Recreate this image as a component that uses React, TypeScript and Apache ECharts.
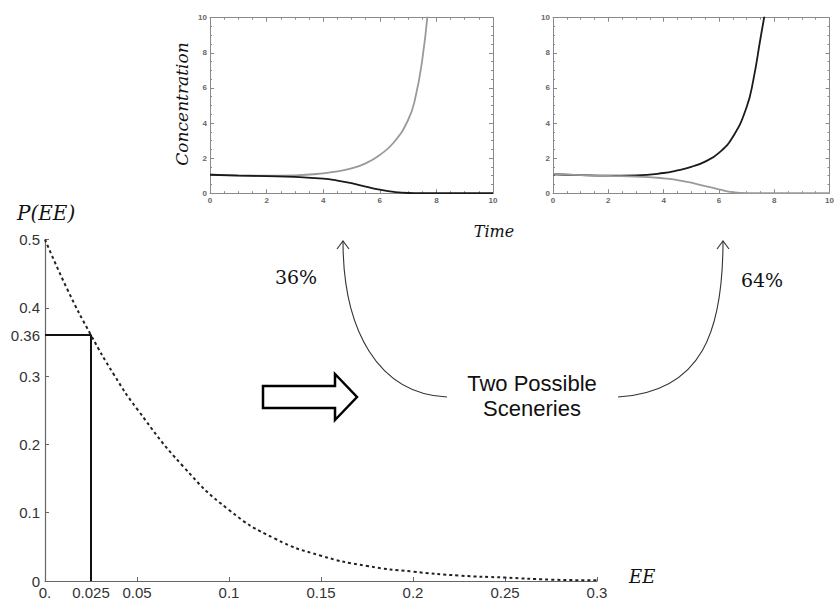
import React, { useEffect, useRef } from "react";
import * as echarts from "echarts";

// Main chart: P(EE) vs EE
const eeValues = [0, 0.0125, 0.025, 0.0375, 0.05, 0.075, 0.1, 0.125, 0.15, 0.175, 0.2, 0.225, 0.25, 0.275, 0.3];
const pValues = [0.5, 0.425, 0.36, 0.302, 0.252, 0.168, 0.104, 0.062, 0.037, 0.022, 0.0137, 0.008, 0.005, 0.002, 0.001];
const markerEE = [0, 0.025, 0.025];
const markerP = [0.36, 0.36, 0];
const xTickValues = [0, 0.025, 0.05, 0.1, 0.15, 0.2, 0.25, 0.3];
const yTickValues = [0, 0.1, 0.2, 0.3, 0.36, 0.4, 0.5];

// Top-left panel (scenario 36%)
const timeRise = [0, 1, 2, 3, 4, 4.5, 5, 5.5, 6, 6.5, 7, 7.25, 7.5, 7.7];
const leftRise = [1.05, 1.02, 1.0, 1.02, 1.13, 1.25, 1.42, 1.7, 2.18, 2.9, 4.17, 5.4, 7.6, 10.4];
const timeFall = [0, 1, 2, 3, 4, 4.5, 5, 5.5, 6, 6.5, 7, 7.5, 8, 9, 10];
const leftFall = [1.05, 1.0, 0.97, 0.93, 0.83, 0.72, 0.57, 0.38, 0.2, 0.07, 0.01, 0, 0, 0, 0];
// Top-right panel (scenario 64%)
const rightRise = [1.08, 1.03, 1.0, 1.02, 1.15, 1.3, 1.5, 1.8, 2.3, 3.2, 4.9, 6.5, 8.8, 10.6];
const rightFall = [1.1, 1.03, 0.98, 0.95, 0.85, 0.75, 0.6, 0.4, 0.22, 0.06, 0.0, 0, 0, 0, 0];

const zip = (xs: number[], ys: number[]) => xs.map((x, i) => [x, ys[i]]);

export default function App() {
  const ref = useRef<HTMLDivElement>(null);
  useEffect(() => {
    if (!ref.current) return;
    const chart = echarts.init(ref.current, null, { renderer: "svg" });
    const frameColor = "#8a8a8a";
    const smallLabel = { fontSize: 8, fontWeight: "bold" as const, color: "#666", fontFamily: "Liberation Sans" };
    const smallX = (gridIndex: number, position: string, labels: boolean) => ({
      type: "value",
      gridIndex,
      position,
      min: 0,
      max: 10,
      interval: 2,
      axisLine: { show: true, onZero: false, lineStyle: { color: frameColor, width: 1 } },
      axisTick: { show: true, inside: true, length: 4, lineStyle: { color: frameColor } },
      minorTick: { show: true, splitNumber: 4, length: 2, lineStyle: { color: frameColor } },
      axisLabel: { show: labels, margin: 3, ...smallLabel },
      splitLine: { show: false },
    });
    const mainLabel = { fontSize: 15, color: "#333", fontFamily: "Liberation Sans" };
    chart.setOption({
      animation: false,
      backgroundColor: "#fff",
      grid: [
        { left: 45, top: 239.5, width: 552, height: 341.5 },
        { left: 210, top: 17.7, width: 283, height: 175.5 },
        { left: 553, top: 17.7, width: 283, height: 175.5 },
      ],
      xAxis: [
        {
          type: "value",
          gridIndex: 0,
          min: 0,
          max: 0.3,
          axisLine: { show: true, onZero: false, lineStyle: { color: "#666", width: 1.2 } },
          axisTick: { show: true, inside: true, length: 4, customValues: xTickValues, lineStyle: { color: "#666" } },
          axisLabel: {
            ...mainLabel,
            margin: 4,
            customValues: xTickValues,
            formatter: (v: number) => (v === 0 ? "0." : String(v)),
          },
          splitLine: { show: false },
        },
        smallX(1, "bottom", true),
        smallX(1, "top", false),
        smallX(2, "bottom", true),
        smallX(2, "top", false),
      ],
      yAxis: [
        {
          type: "value",
          gridIndex: 0,
          min: 0,
          max: 0.5,
          axisLine: { show: true, onZero: false, lineStyle: { color: "#666", width: 1.2 } },
          axisTick: { show: true, inside: true, length: 4, customValues: yTickValues, lineStyle: { color: "#666" } },
          axisLabel: { ...mainLabel, margin: 5, customValues: yTickValues, formatter: (v: number) => String(v) },
          splitLine: { show: false },
        },
        smallX(1, "left", true),
        smallX(1, "right", false),
        smallX(2, "left", true),
        smallX(2, "right", false),
      ],
      series: [
        {
          type: "line",
          xAxisIndex: 0,
          yAxisIndex: 0,
          data: zip(eeValues, pValues),
          smooth: true,
          showSymbol: false,
          lineStyle: { color: "#222", width: 2, type: [3, 3] },
        },
        {
          type: "line",
          xAxisIndex: 0,
          yAxisIndex: 0,
          data: zip(markerEE, markerP),
          showSymbol: false,
          lineStyle: { color: "#111", width: 2 },
        },
        {
          type: "line",
          xAxisIndex: 1,
          yAxisIndex: 1,
          data: zip(timeRise, leftRise),
          smooth: true,
          showSymbol: false,
          lineStyle: { color: "#9a9a9a", width: 1.8 },
        },
        {
          type: "line",
          xAxisIndex: 1,
          yAxisIndex: 1,
          data: zip(timeFall, leftFall),
          smooth: true,
          showSymbol: false,
          lineStyle: { color: "#1a1a1a", width: 1.8 },
        },
        {
          type: "line",
          xAxisIndex: 3,
          yAxisIndex: 3,
          data: zip(timeRise, rightRise),
          smooth: true,
          showSymbol: false,
          lineStyle: { color: "#1a1a1a", width: 1.8 },
        },
        {
          type: "line",
          xAxisIndex: 3,
          yAxisIndex: 3,
          data: zip(timeFall, rightFall),
          smooth: true,
          showSymbol: false,
          lineStyle: { color: "#9a9a9a", width: 1.8 },
        },
      ],
      graphic: [
        {
          type: "text",
          x: 17,
          y: 213,
          style: { text: "P(EE)", font: "italic 20px 'DejaVu Serif'", fill: "#111", textVerticalAlign: "middle" },
        },
        {
          type: "text",
          x: 629,
          y: 576,
          style: { text: "EE", font: "italic 18px 'DejaVu Serif'", fill: "#111", textVerticalAlign: "middle" },
        },
        {
          type: "text",
          x: 182,
          y: 104,
          rotation: Math.PI / 2,
          style: {
            text: "Concentration",
            font: "italic 17px 'DejaVu Serif'",
            fill: "#111",
            textAlign: "center",
            textVerticalAlign: "middle",
          },
        },
        {
          type: "text",
          x: 494,
          y: 231,
          style: { text: "Time", font: "italic 16px 'DejaVu Serif'", fill: "#111", textAlign: "center", textVerticalAlign: "middle" },
        },
        {
          type: "text",
          x: 296,
          y: 277,
          style: { text: "36%", font: "19px 'DejaVu Serif'", fill: "#111", textAlign: "center", textVerticalAlign: "middle" },
        },
        {
          type: "text",
          x: 762,
          y: 280,
          style: { text: "64%", font: "19px 'DejaVu Serif'", fill: "#111", textAlign: "center", textVerticalAlign: "middle" },
        },
        {
          type: "text",
          x: 532,
          y: 383,
          style: { text: "Two Possible", font: "22px 'Liberation Sans'", fill: "#111", textAlign: "center", textVerticalAlign: "middle" },
        },
        {
          type: "text",
          x: 532,
          y: 408,
          style: { text: "Sceneries", font: "22px 'Liberation Sans'", fill: "#111", textAlign: "center", textVerticalAlign: "middle" },
        },
        {
          type: "polygon",
          shape: {
            points: [
              [263, 386],
              [335, 386],
              [335, 374],
              [357, 397],
              [335, 420],
              [335, 408],
              [263, 408],
            ],
          },
          style: { fill: "#fff", stroke: "#000", lineWidth: 2.5 },
        },
        {
          type: "bezierCurve",
          shape: { x1: 447, y1: 397, cpx1: 378, cpy1: 394, cpx2: 343, cpy2: 330, x2: 343, y2: 241 },
          style: { stroke: "#333", lineWidth: 1.1, fill: null },
        },
        {
          type: "polyline",
          shape: { points: [[337, 249], [343, 241], [349, 249]] },
          style: { stroke: "#333", lineWidth: 1.1, fill: null },
        },
        {
          type: "bezierCurve",
          shape: { x1: 618, y1: 397, cpx1: 703, cpy1: 392, cpx2: 723, cpy2: 330, x2: 723, y2: 241 },
          style: { stroke: "#333", lineWidth: 1.1, fill: null },
        },
        {
          type: "polyline",
          shape: { points: [[717, 249], [723, 241], [729, 249]] },
          style: { stroke: "#333", lineWidth: 1.1, fill: null },
        },
      ],
    });
    return () => chart.dispose();
  }, []);
  return <div ref={ref} style={{ position: "absolute", left: 0, top: 0, width: 837, height: 600 }} />;
}
